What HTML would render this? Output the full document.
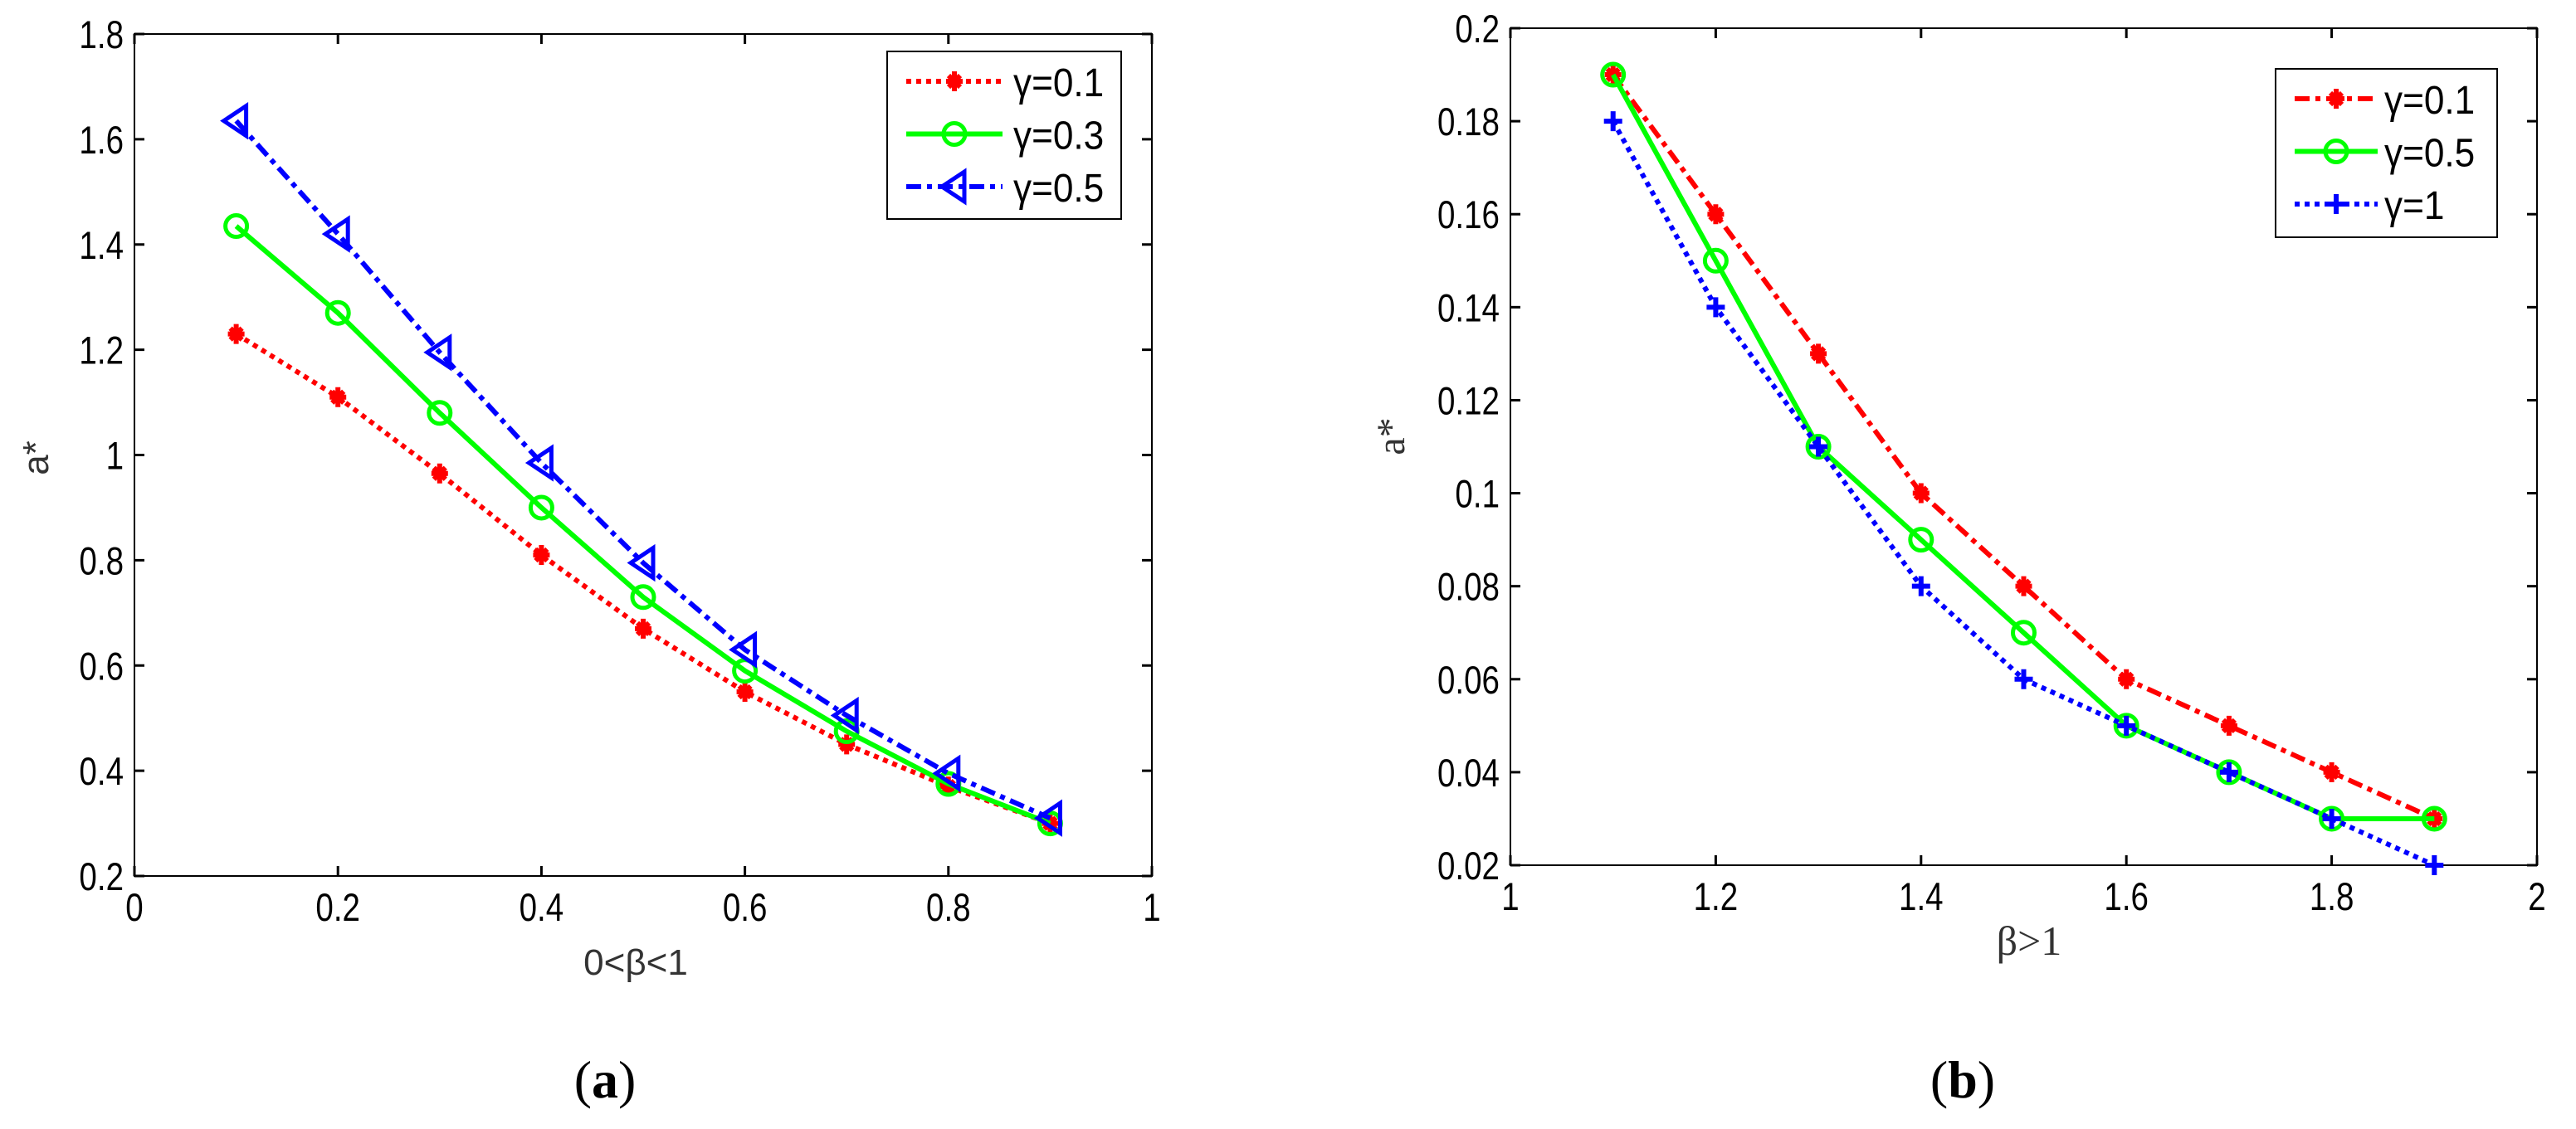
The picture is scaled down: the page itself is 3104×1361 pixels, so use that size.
<!DOCTYPE html>
<html><head><meta charset="utf-8"><style>
body{margin:0;background:#fff;}
svg{display:block;font-family:"Liberation Sans",sans-serif;}
</style></head><body>
<svg id="s" width="3104" height="1361" viewBox="0 0 3104 1361"></svg>
<script>
const xsA=[0.1,0.2,0.3,0.4,0.5,0.6,0.7,0.8,0.9];
const aRed=[1.23,1.11,0.965,0.81,0.67,0.55,0.45,0.37,0.30];
const aGreen=[1.435,1.27,1.08,0.90,0.73,0.59,0.475,0.375,0.30];
const aBlue=[1.635,1.42,1.195,0.985,0.795,0.63,0.505,0.395,0.31];
const aXTicks=["0","0.2","0.4","0.6","0.8","1"];
const aYTicks=["0.2","0.4","0.6","0.8","1","1.2","1.4","1.6","1.8"];
const xsB=[1.1,1.2,1.3,1.4,1.5,1.6,1.7,1.8,1.9];
const bRed=[0.19,0.16,0.13,0.10,0.08,0.06,0.05,0.04,0.03];
const bGreen=[0.19,0.15,0.11,0.09,0.07,0.05,0.04,0.03,0.03];
const bBlue=[0.18,0.14,0.11,0.08,0.06,0.05,0.04,0.03,0.02];
const bXTicks=["1","1.2","1.4","1.6","1.8","2"];
const bYTicks=["0.02","0.04","0.06","0.08","0.1","0.12","0.14","0.16","0.18","0.2"];
const NS="http://www.w3.org/2000/svg";
const svg=document.getElementById('s');
function mk(tag,attrs,parent){const e=document.createElementNS(NS,tag);for(const k in attrs)e.setAttribute(k,attrs[k]);(parent||svg).appendChild(e);return e;}
function ntext(parent,x,y,str,size,anchor,sx){
  const g=mk('g',{transform:`translate(${x},${y}) scale(${sx},1)`},parent);
  const t=mk('text',{x:0,y:0,'font-size':size,'text-anchor':anchor},g);
  t.textContent=str;return t;
}
function marker(g,type,x,y,color){
  let m;
  if(type==='star'){
    m=mk('g',{},g);
    mk('path',{d:`M${x-10},${y}H${x+10}M${x},${y-12}V${y+12}M${x-7},${y-7}L${x+7},${y+7}M${x-7},${y+7}L${x+7},${y-7}`,stroke:color,'stroke-width':6,fill:'none'},m);
  }else if(type==='circle'){
    m=mk('circle',{cx:x,cy:y,r:13,fill:'none',stroke:color,'stroke-width':5},g);
  }else if(type==='tri'){
    m=mk('path',{d:`M${x-15},${y}L${x+12},${y-18}L${x+12},${y+18}Z`,fill:'none',stroke:color,'stroke-width':5},g);
  }else{
    m=mk('path',{d:`M${x-11},${y}H${x+11}M${x},${y-12}V${y+12}`,stroke:color,'stroke-width':6,fill:'none'},g);
  }
  
  
}
function chart(o){
  const g=mk('g',{});
  
  
  const X=v=>o.L+(v-o.x0)/(o.x1-o.x0)*(o.R-o.L);
  const Y=v=>o.B-(v-o.y0)/(o.y1-o.y0)*(o.B-o.T);
  const box=mk('rect',{x:o.L,y:o.T,width:o.R-o.L,height:o.B-o.T,fill:'none',stroke:'#000','stroke-width':2},g);
  
  o.xt.forEach(t=>{const v=parseFloat(t),x=X(v);
    mk('line',{x1:x,x2:x,y1:o.B,y2:o.B-12,stroke:'#000','stroke-width':3},g);
    mk('line',{x1:x,x2:x,y1:o.T,y2:o.T+12,stroke:'#000','stroke-width':3},g);
    const tx=ntext(g,x,o.B+54,t,47,'middle',0.82);
    });
  o.yt.forEach(t=>{const v=parseFloat(t),y=Y(v);
    mk('line',{x1:o.L,x2:o.L+12,y1:y,y2:y,stroke:'#000','stroke-width':3},g);
    mk('line',{x1:o.R,x2:o.R-12,y1:y,y2:y,stroke:'#000','stroke-width':3},g);
    const tx=ntext(g,o.L-13,y+17,t,47,'end',0.82);
    });
  o.series.forEach(s=>{
    const sg=mk('g',{},g);
    
    const pts=o.xs.map((v,i)=>X(v)+','+Y(s.v[i])).join(' ');
    mk('polyline',{points:pts,fill:'none',stroke:s.c,'stroke-width':6,'stroke-dasharray':s.d||'none'},sg);
    o.xs.forEach((v,i)=>marker(sg,s.m,X(v),Y(s.v[i]),s.c));
  });
  const lg=mk('g',{},g);
  
  mk('rect',{x:o.lg[0],y:o.lg[1],width:o.lg[2],height:o.lg[3],fill:'#fff',stroke:'#000','stroke-width':2},lg);
  o.series.forEach((s,i)=>{
    const ey=o.lg[1]+36+i*63.5;
    const eg=mk('g',{},lg);
    
    mk('line',{x1:o.lg[0]+23,x2:o.lg[0]+23+o.ll,y1:ey,y2:ey,stroke:s.c,'stroke-width':6,'stroke-dasharray':s.d||'none'},eg);
    marker(eg,s.m,o.lg[0]+23+o.ll/2,ey,s.c);
    ntext(eg,o.lg[0]+o.tx,ey+18,s.label,48,'start',0.92);
  });
  const xl=mk('text',{x:o.xl[0],y:o.xl[1],'font-size':o.xlSerif?50:44,'text-anchor':'middle','fill':'#333','font-family':o.xlSerif?'"Liberation Serif",serif':'"Liberation Sans",sans-serif'},g);
  xl.textContent=o.xlabel;
  const yl=mk('text',{x:o.yl[0],y:o.yl[1],'font-size':o.ylSerif?48:44,'text-anchor':'middle',fill:'#333',transform:`rotate(-90 ${o.yl[0]} ${o.yl[1]})`,'font-family':o.ylSerif?'"Liberation Serif",serif':'"Liberation Sans",sans-serif'},g);
  yl.textContent='a*';
  const cap=mk('text',{x:o.cap[0],y:o.cap[1],'font-size':64,'text-anchor':'middle','font-family':'"Liberation Serif",serif'},g);
  cap.innerHTML='(<tspan font-weight="bold">'+o.capt+'</tspan>)';
  
}
chart({name:'chart-a',L:162,R:1388,T:41,B:1056,x0:0,x1:1,y0:0.2,y1:1.8,xt:aXTicks,yt:aYTicks,xs:xsA,
  series:[{name:'series-gamma-0.1',label:'γ=0.1',v:aRed,c:'#f00',d:'6 6',m:'star'},
          {name:'series-gamma-0.3',label:'γ=0.3',v:aGreen,c:'#0f0',m:'circle'},
          {name:'series-gamma-0.5',label:'γ=0.5',v:aBlue,c:'#00f',d:'18 7 6 7',m:'tri'}],
  lg:[1069,62,282,202],ll:116,tx:152,xl:[766,1175],xlabel:'0<β<1',yl:[58,552],cap:[729,1323],capt:'a'});
chart({name:'chart-b',L:1820,R:3057,T:34,B:1043,x0:1,x1:2,y0:0.02,y1:0.2,xt:bXTicks,yt:bYTicks,xs:xsB,
  series:[{name:'series-gamma-0.1',label:'γ=0.1',v:bRed,c:'#f00',d:'18 7 6 7',m:'star'},
          {name:'series-gamma-0.5',label:'γ=0.5',v:bGreen,c:'#0f0',m:'circle'},
          {name:'series-gamma-1',label:'γ=1',v:bBlue,c:'#00f',d:'6 6',m:'plus'}],
  lg:[2742,83,267,203],ll:100,tx:131,xl:[2445,1151],xlabel:'β>1',xlSerif:true,yl:[1692,526],ylSerif:true,cap:[2365,1323],capt:'b'});
</script>
</body></html>
